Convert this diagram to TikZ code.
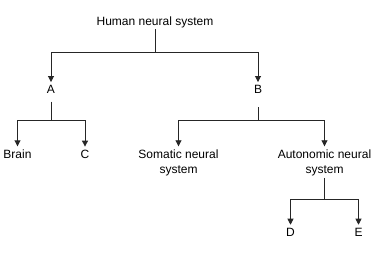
\documentclass[tikz,border=0pt]{standalone}
\usepackage{fontspec}
\setmainfont{Liberation Sans}
\usetikzlibrary{arrows.meta}
\begin{document}
\begin{tikzpicture}[x=1pt,y=-1pt,
  lbl/.style={inner sep=0pt, anchor=base, font=\fontsize{12}{14.6}\selectfont},
  mlbl/.style={inner sep=0pt, anchor=north, align=center, font=\fontsize{12}{14.6}\selectfont},
  conn/.style={line width=0.9pt, draw=black!85},
  arr/.style={conn, -{Triangle[width=6pt,length=6pt]}, shorten >=3.5pt}]
\useasboundingbox (0,0) rectangle (380,253);
% nodes
\node[lbl] (H) at (155,25.3) {Human neural system};
\node[lbl] (A) at (51,94) {A};
\node[lbl] (B) at (258,94) {B};
\node[lbl] (Br) at (17.5,158.7) {Brain};
\node[lbl] (C) at (85,158.7) {C};
\node[mlbl] (S) at (178.5,149.8) {Somatic neural\\system};
\node[mlbl] (Au) at (324.5,149.8) {Autonomic neural\\system};
\node[lbl] (D) at (290.5,236.7) {D};
\node[lbl] (E) at (358.5,236.7) {E};
% junctions
\coordinate (hj) at (155,52.3);
\coordinate (aj) at (51,120);
\coordinate (bj) at (258,120);
\coordinate (auj) at (324.5,199.3);
% connectors
\draw[conn] ([yshift=-1.5pt]H.south) -- (hj);
\draw[arr] (hj) -| (A.north);
\draw[arr] (hj) -| (B.north);
\draw[conn] ([yshift=-7.5pt]A.south) -- (aj);
\draw[arr] (aj) -| (Br.north);
\draw[arr] (aj) -| (C.north);
\draw[conn] ([yshift=-13pt]B.south) -- (bj);
\draw[arr] (bj) -| (S.north);
\draw[arr] (bj) -| (Au.north);
\draw[conn] ([yshift=-2pt]Au.south) -- (auj);
\draw[arr] (auj) -| (D.north);
\draw[arr] (auj) -| (E.north);
\end{tikzpicture}
\end{document}
